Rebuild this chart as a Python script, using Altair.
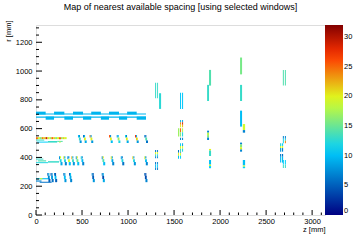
import altair as alt
import pandas as pd

title_text = "Map of nearest available spacing [using selected windows]"

# rows: z0, z1, r0, r1, value
bands = [
    [0, 1195, 698, 706, 9.5], [0, 1195, 676, 684, 9.5],
    [0, 105, 698, 718, 9.5], [196, 308, 698, 718, 9.5], [402, 511, 698, 718, 9.5],
    [600, 705, 698, 718, 9.5], [793, 902, 698, 718, 9.5], [990, 1094, 698, 718, 9.5],
    [105, 196, 662, 684, 9.5], [308, 402, 662, 684, 9.5], [511, 600, 662, 684, 9.5],
    [705, 793, 662, 684, 9.5], [902, 990, 662, 684, 9.5], [1094, 1195, 662, 684, 9.5],
]

left_r520 = [
    [0, 21, 527, 541, 25], [21, 42, 527, 541, 19], [42, 62, 527, 541, 16], [62, 83, 527, 541, 24],
    [83, 104, 527, 541, 21], [104, 125, 527, 541, 29], [125, 146, 527, 541, 20], [146, 167, 527, 541, 17],
    [167, 187, 527, 541, 25], [187, 208, 527, 541, 21], [208, 229, 527, 541, 16], [229, 250, 527, 541, 20],
    [250, 271, 527, 541, 26], [271, 291, 527, 541, 17], [291, 312, 527, 541, 21], [312, 333, 527, 541, 19],
    [0, 90, 517, 524, 13], [10, 130, 503, 510, 11], [130, 230, 503, 514, 13], [230, 290, 508, 515, 14],
    [250, 270, 503, 510, 18],
]

left_r380 = [
    [0, 80, 385, 392, 13], [20, 110, 372, 380, 14], [0, 130, 360, 367, 12], [130, 250, 364, 374, 13],
]

left_r240 = [
    [0, 150, 248, 256, 10], [40, 70, 248, 256, 19], [0, 60, 232, 240, 7], [40, 170, 224, 231, 6],
]

clusters_r520 = [
    [456, 467, 538, 555, 10], [467, 478, 538, 555, 8], [466, 486, 518, 538, 13], [474, 496, 500, 518, 8],
    [511, 522, 538, 555, 6], [522, 533, 538, 555, 9], [521, 541, 518, 538, 20], [529, 551, 500, 518, 9],
    [582, 593, 538, 555, 24], [593, 604, 538, 555, 8], [592, 612, 518, 538, 20], [600, 622, 500, 518, 8],
    [794, 805, 538, 555, 26], [805, 816, 538, 555, 7], [804, 824, 518, 538, 20], [812, 834, 500, 518, 10],
    [877, 888, 538, 555, 8], [888, 899, 538, 555, 10], [887, 907, 518, 538, 17], [895, 917, 500, 518, 12],
    [967, 978, 538, 555, 12], [978, 989, 538, 555, 7], [977, 997, 518, 538, 20], [985, 1007, 500, 518, 9],
    [1076, 1087, 538, 555, 27], [1087, 1098, 538, 555, 9], [1086, 1106, 518, 538, 21], [1094, 1116, 500, 518, 8],
    [1177, 1188, 538, 555, 7], [1188, 1199, 538, 555, 5], [1187, 1207, 518, 538, 14], [1195, 1217, 500, 518, 6],
]

clusters_r380 = [
    [250, 261, 388, 408, 8], [261, 272, 392, 408, 19], [258, 278, 368, 388, 12], [266, 288, 345, 368, 9],
    [297, 308, 388, 408, 20], [308, 319, 392, 408, 8], [305, 325, 368, 388, 12], [313, 335, 345, 368, 7],
    [340, 351, 388, 408, 9], [351, 362, 392, 408, 6], [348, 368, 368, 388, 19], [356, 378, 345, 368, 10],
    [384, 395, 388, 408, 22], [395, 406, 392, 408, 9], [392, 412, 368, 388, 13], [400, 422, 345, 368, 8],
    [432, 443, 388, 408, 8], [443, 454, 392, 408, 20], [440, 460, 368, 388, 15], [448, 470, 345, 368, 10],
    [486, 497, 388, 408, 12], [497, 508, 392, 408, 7], [494, 514, 368, 388, 10], [502, 524, 345, 368, 7],
    [714, 725, 388, 408, 7], [725, 736, 392, 408, 20], [722, 742, 368, 388, 14], [730, 752, 345, 368, 10],
    [812, 823, 388, 408, 20], [823, 834, 392, 408, 8], [820, 840, 368, 388, 9], [828, 850, 345, 368, 7],
    [921, 932, 388, 408, 9], [932, 943, 392, 408, 6], [929, 949, 368, 388, 12], [937, 959, 345, 368, 6],
    [1047, 1058, 388, 408, 21], [1058, 1069, 392, 408, 8], [1055, 1075, 368, 388, 12], [1063, 1085, 345, 368, 8],
    [1177, 1188, 388, 408, 19], [1188, 1199, 392, 408, 7], [1185, 1205, 368, 388, 10], [1193, 1215, 345, 368, 7],
]

clusters_r240 = [
    [123, 134, 272, 292, 5], [134, 145, 268, 292, 9], [129, 149, 250, 272, 7], [135, 157, 228, 250, 5],
    [158, 169, 272, 292, 4], [169, 180, 268, 292, 7], [164, 184, 250, 272, 8], [170, 192, 228, 250, 6],
    [196, 207, 272, 292, 7], [207, 218, 268, 292, 4], [202, 222, 250, 272, 10], [208, 230, 228, 250, 5],
    [297, 308, 272, 292, 6], [308, 319, 268, 292, 8], [303, 323, 250, 272, 10], [309, 331, 228, 250, 8],
    [359, 370, 272, 292, 5], [370, 381, 268, 292, 10], [365, 385, 250, 272, 9], [371, 393, 228, 250, 7],
    [605, 616, 272, 292, 7], [616, 627, 268, 292, 5], [611, 631, 250, 272, 5], [617, 639, 228, 250, 8],
    [714, 725, 272, 292, 6], [725, 736, 268, 292, 9], [720, 740, 250, 272, 4], [726, 748, 228, 250, 9],
    [1177, 1188, 272, 292, 5], [1188, 1199, 268, 292, 4], [1183, 1203, 250, 272, 4], [1189, 1211, 228, 250, 7],
]

vertical_segs = [
    [1294, 1305, 811, 919, 13], [1316, 1326, 811, 919, 13], [1337, 1359, 737, 846, 12.5],
    [1565, 1576, 737, 850, 10.5], [1587, 1598, 737, 850, 10.5],
    [1565, 1576, 645, 660, 10], [1565, 1576, 627, 645, 24], [1565, 1576, 610, 627, 20],
    [1587, 1598, 645, 660, 9], [1587, 1598, 627, 645, 28], [1587, 1598, 610, 627, 22],
    [1543, 1557, 545, 603, 17], [1565, 1576, 575, 603, 25], [1565, 1576, 545, 575, 16],
    [1587, 1598, 575, 603, 18], [1587, 1598, 545, 575, 12],
    [1565, 1576, 521, 537, 7], [1587, 1598, 521, 537, 7],
    [1565, 1576, 480, 498, 11], [1565, 1576, 460, 480, 20], [1565, 1576, 440, 460, 13],
    [1587, 1598, 480, 498, 9], [1587, 1598, 460, 480, 19], [1587, 1598, 440, 460, 12],
    [1543, 1554, 432, 452, 6], [1543, 1554, 412, 432, 20], [1543, 1554, 390, 412, 10],
    [1565, 1576, 432, 440, 6], [1565, 1576, 412, 432, 19], [1565, 1576, 390, 412, 11],
    [1294, 1305, 437, 452, 6], [1294, 1305, 422, 437, 20], [1294, 1305, 408, 422, 13], [1294, 1305, 394, 408, 7],
    [1316, 1326, 437, 452, 6], [1316, 1326, 422, 437, 19], [1316, 1326, 408, 422, 12], [1316, 1326, 394, 408, 7],
    [1294, 1305, 350, 368, 6], [1294, 1305, 330, 350, 10], [1294, 1305, 313, 330, 7],
    [1316, 1326, 350, 368, 7], [1316, 1326, 330, 350, 11], [1316, 1326, 313, 330, 6],
    [2217, 2239, 977, 1094, 15.5], [1880, 1902, 899, 1008, 14], [1859, 1880, 792, 904, 13],
    [2217, 2239, 792, 904, 13], [2217, 2239, 614, 725, 10],
    [2247, 2272, 590, 632, 19], [2247, 2272, 572, 590, 7],
    [1859, 1880, 572, 586, 7], [1859, 1880, 555, 572, 18], [1859, 1880, 538, 555, 16], [1859, 1880, 521, 538, 7],
    [1880, 1902, 448, 459, 20], [1880, 1902, 410, 448, 13],
    [1880, 1902, 350, 382, 10], [1880, 1902, 340, 350, 19], [1880, 1902, 325, 340, 11],
    [2217, 2239, 490, 503, 7], [2217, 2239, 470, 490, 16], [2217, 2239, 455, 470, 20], [2217, 2239, 440, 455, 7],
    [2247, 2272, 345, 382, 10], [2247, 2272, 335, 345, 18], [2247, 2272, 325, 335, 11],
    [2682, 2693, 899, 1008, 14], [2704, 2715, 899, 1008, 14],
    [2682, 2693, 530, 549, 7], [2682, 2693, 498, 530, 12],
    [2704, 2715, 530, 549, 7], [2704, 2715, 515, 530, 12], [2704, 2715, 498, 515, 24],
    [2652, 2663, 480, 498, 12], [2652, 2663, 465, 480, 20], [2652, 2663, 440, 465, 8],
    [2671, 2685, 480, 498, 11], [2671, 2685, 465, 480, 19], [2671, 2685, 440, 465, 7],
    [2652, 2663, 405, 424, 6], [2652, 2663, 364, 405, 10],
    [2671, 2685, 405, 424, 6], [2671, 2685, 364, 405, 10],
    [2682, 2693, 350, 382, 11], [2682, 2693, 327, 350, 13],
    [2704, 2715, 350, 382, 11], [2704, 2715, 327, 350, 13],
]

x_labels = [0, 500, 1000, 1500, 2000, 2500, 3000]
x_minor = [100, 200, 300, 400, 600, 700, 800, 900, 1100, 1200, 1300, 1400, 1600, 1700, 1800, 1900,
           2100, 2200, 2300, 2400, 2600, 2700, 2800, 2900, 3100]
y_labels = [0, 200, 400, 600, 800, 1000, 1200]
y_minor = [50, 100, 150, 250, 300, 350, 450, 500, 550, 650, 700, 750, 850, 900, 950,
           1050, 1100, 1150, 1250, 1300]
z_labels = [0, 5, 10, 15, 20, 25, 30]

rows = bands + left_r520 + left_r380 + left_r240 + clusters_r520 + clusters_r380 + clusters_r240 + vertical_segs
df = pd.DataFrame(rows, columns=["z0", "z1", "r0", "r1", "v"])

W, H = 289, 190
FONT = "Liberation Sans"
zdom = [0, 3140]
rdom = [0, 1320]


def zs():
    return alt.Scale(domain=zdom, nice=False, zero=False)


def rs():
    return alt.Scale(domain=rdom, nice=False, zero=False)


cscale = alt.Scale(domain=[0, 10.88, 19.52, 26.88, 32],
                   range=["#000082", "#00cfff", "#deff1f", "#ff3300", "#820000"], interpolate="rgb")

cells = alt.Chart(df).mark_rect(strokeWidth=0).encode(
    x=alt.X("z0:Q", scale=zs(), axis=alt.Axis(
        values=x_labels, ticks=False, domain=False, grid=False, labelPadding=2, labelFlush=False,
        labelFont=FONT, labelFontSize=7.5, labelColor="black", format="d",
        title="z [mm]", titleFont=FONT, titleFontSize=7.5, titleFontWeight="normal", titleColor="black",
        titleX=W, titleY=16, titleAlign="right", titleBaseline="alphabetic", titleAnchor="end")),
    x2="z1:Q",
    y=alt.Y("r0:Q", scale=rs(), axis=alt.Axis(
        values=y_labels, ticks=False, domain=False, grid=False, labelPadding=4, labelFlush=False,
        labelFont=FONT, labelFontSize=7.5, labelColor="black", format="d",
        title="r [mm]", titleFont=FONT, titleFontSize=7.5, titleFontWeight="normal", titleColor="black",
        titleAngle=270, titleX=-26, titleY=-5, titleAlign="right", titleBaseline="alphabetic", titleAnchor="end")),
    y2="r1:Q",
    color=alt.Color("v:Q", scale=cscale, legend=alt.Legend(
        type="gradient", orient="none", legendX=W, legendY=0, direction="vertical",
        gradientLength=H, gradientThickness=18, title=None, values=z_labels,
        labelFont=FONT, labelFontSize=7.5, labelColor="black", labelOffset=1, labelBaseline="middle",
        gradientStrokeWidth=0, padding=0, labelOverlap=False)),
)

xmaj = alt.Chart(pd.DataFrame({"t": x_labels})).mark_rule(color="black", strokeWidth=1).encode(
    x=alt.X("t:Q", scale=zs(), axis=None), y=alt.value(H), y2=alt.value(H - 5))
xmin = alt.Chart(pd.DataFrame({"t": x_minor})).mark_rule(color="black", strokeWidth=1).encode(
    x=alt.X("t:Q", scale=zs(), axis=None), y=alt.value(H), y2=alt.value(H - 2.5))
ymaj = alt.Chart(pd.DataFrame({"t": y_labels})).mark_rule(color="black", strokeWidth=1).encode(
    y=alt.Y("t:Q", scale=rs(), axis=None), x=alt.value(0), x2=alt.value(6))
ymin = alt.Chart(pd.DataFrame({"t": y_minor})).mark_rule(color="black", strokeWidth=1).encode(
    y=alt.Y("t:Q", scale=rs(), axis=None), x=alt.value(0), x2=alt.value(3))
cticks = alt.Chart(pd.DataFrame({"t": z_labels[1:]})).mark_rule(color="black", strokeWidth=1, clip=False).encode(
    y=alt.Y("t:Q", scale=alt.Scale(domain=[0, 32], nice=False, zero=False), axis=None),
    x=alt.value(W + 9), x2=alt.value(W + 17))

chart = alt.layer(cells, xmaj, xmin, ymaj, ymin, cticks).resolve_scale(
    x="independent", y="independent").properties(
    width=W, height=H,
    title=alt.TitleParams(title_text, font=FONT, fontSize=9, fontWeight="normal", color="black",
                          anchor="middle", offset=11, baseline="alphabetic", dy=10),
    padding={"left": 36, "top": 25, "right": 35, "bottom": 25},
    autosize=alt.AutoSizeParams(type="none"),
).configure_view(stroke="black", strokeWidth=1).configure(background="white")

chart.save("out.html", embed_options={"renderer": "svg", "actions": False})
